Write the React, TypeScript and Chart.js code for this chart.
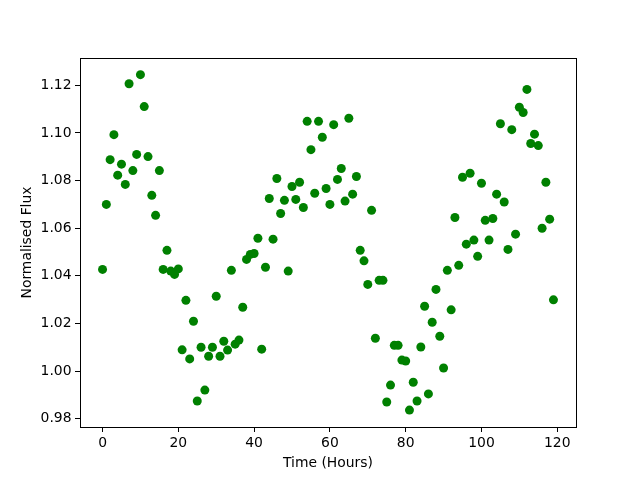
import React, { useEffect, useRef } from "react";
import { Chart, registerables } from "chart.js";

Chart.register(...registerables);

const hours: number[] = [
  0, 1, 2, 3, 4, 5, 6, 7, 8, 9, 10, 11, 12, 13, 14, 15, 16, 17, 18, 19,
  20, 21, 22, 23, 24, 25, 26, 27, 28, 29, 30, 31, 32, 33, 34, 35, 36, 37, 38, 39,
  40, 41, 42, 43, 44, 45, 46, 47, 48, 49, 50, 51, 52, 53, 54, 55, 56, 57, 58, 59,
  60, 61, 62, 63, 64, 65, 66, 67, 68, 69, 70, 71, 72, 73, 74, 75, 76, 77, 78, 79,
  80, 81, 82, 83, 84, 85, 86, 87, 88, 89, 90, 91, 92, 93, 94, 95, 96, 97, 98, 99,
  100, 101, 102, 103, 104, 105, 106, 107, 108, 109, 110, 111, 112, 113, 114, 115, 116, 117, 118, 119,
];

const flux: number[] = [
  1.0427, 1.07, 1.0888, 1.0993, 1.0823, 1.0869, 1.0784, 1.1207, 1.0842, 1.091,
  1.1245, 1.1111, 1.0901, 1.0738, 1.0654, 1.0842, 1.0427, 1.0507, 1.042, 1.0406,
  1.0429, 1.0089, 1.0297, 1.0051, 1.0209, 0.9874, 1.01, 0.992, 1.0062, 1.01,
  1.0314, 1.0062, 1.0125, 1.0088, 1.0423, 1.0113, 1.013, 1.0268, 1.0469, 1.049,
  1.0494, 1.0558, 1.0092, 1.0436, 1.0725, 1.0554, 1.0809, 1.0662, 1.0717, 1.042,
  1.0775, 1.0721, 1.0793, 1.0687, 1.1049, 1.093, 1.0747, 1.1049, 1.0982, 1.0767,
  1.07, 1.1035, 1.0805, 1.0851, 1.0714, 1.1062, 1.0743, 1.0817, 1.0507, 1.0463,
  1.0364, 1.0675, 1.0138, 1.0381, 1.0381, 0.987, 0.9941, 1.0108, 1.0108, 1.0046,
  1.0042, 0.9836, 0.9953, 0.9874, 1.0101, 1.0272, 0.9904, 1.0205, 1.0343, 1.0146,
  1.0013, 1.0423, 1.0257, 1.0645, 1.0444, 1.0814, 1.0533, 1.0831, 1.055, 1.0482,
  1.0789, 1.0633, 1.055, 1.0641, 1.0743, 1.1039, 1.071, 1.0511, 1.1014, 1.0575,
  1.1108, 1.1086, 1.1183, 1.0956, 1.0995, 1.0947, 1.06, 1.0793, 1.0638, 1.0299,
];

const xTicks: number[] = [0, 20, 40, 60, 80, 100, 120];
const yTicks: number[] = [0.98, 1.0, 1.02, 1.04, 1.06, 1.08, 1.1, 1.12];

const FONT = "'DejaVu Sans', sans-serif";

export default function App() {
  const ref = useRef<HTMLCanvasElement | null>(null);

  useEffect(() => {
    if (!ref.current) return;
    const frame = {
      id: "frame",
      afterDraw(chart: any) {
        const { ctx, chartArea } = chart;
        ctx.save();
        ctx.strokeStyle = "#000";
        ctx.lineWidth = 1;
        ctx.strokeRect(
          Math.round(chartArea.left) + 0.5,
          Math.round(chartArea.top) + 0.5,
          Math.round(chartArea.right - chartArea.left),
          Math.round(chartArea.bottom - chartArea.top)
        );
        ctx.restore();
      },
    };
    const chart = new Chart(ref.current, {
      type: "scatter",
      data: {
        datasets: [
          {
            data: hours.map((h, i) => ({ x: h, y: flux[i] })),
            backgroundColor: "#008000",
            borderColor: "#008000",
            borderWidth: 0,
            pointRadius: 4.5,
            pointHoverRadius: 4.5,
          },
        ],
      },
      options: {
        responsive: false,
        animation: false,
        events: [],
        layout: { padding: { top: 58, right: 64, left: 0, bottom: 0 } },
        plugins: { legend: { display: false }, tooltip: { enabled: false } },
        scales: {
          x: {
            type: "linear",
            min: -5.95,
            max: 124.95,
            afterFit: (s: any) => {
              s.height = 53;
            },
            afterBuildTicks: (s: any) => {
              s.ticks = xTicks.map((v) => ({ value: v }));
            },
            ticks: {
              color: "#000",
              font: { family: FONT, size: 13.9 },
              padding: 3.5,
              maxRotation: 0,
              callback: (v: any) => String(v),
            },
            grid: {
              display: true,
              drawOnChartArea: false,
              drawTicks: true,
              tickLength: 5,
              tickColor: "#000",
              tickWidth: 1,
            },
            border: { display: false },
            title: {
              display: true,
              text: "Time (Hours)",
              color: "#000",
              font: { family: FONT, size: 13.9 },
              padding: { top: 0, bottom: 8.6 },
            },
          },
          y: {
            type: "linear",
            min: 0.9765,
            max: 1.1315,
            afterFit: (s: any) => {
              s.width = 80;
            },
            afterBuildTicks: (s: any) => {
              s.ticks = yTicks.map((v) => ({ value: v }));
            },
            ticks: {
              color: "#000",
              font: { family: FONT, size: 13.9 },
              padding: 3.5,
              callback: (v: any) => Number(v).toFixed(2),
            },
            grid: {
              display: true,
              drawOnChartArea: false,
              drawTicks: true,
              tickLength: 5,
              tickColor: "#000",
              tickWidth: 1,
            },
            border: { display: false },
            title: {
              display: true,
              text: "Normalised Flux",
              color: "#000",
              font: { family: FONT, size: 13.9 },
              padding: { top: 18.6, bottom: 0 },
            },
          },
        },
      },
      plugins: [frame],
    });
    return () => chart.destroy();
  }, []);

  return (
    <div style={{ position: "absolute", left: 0, top: 0, width: 640, height: 480, background: "#fff" }}>
      <canvas ref={ref} width={640} height={480} />
    </div>
  );
}
